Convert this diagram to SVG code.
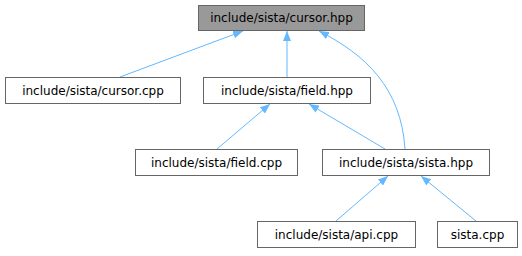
<svg xmlns="http://www.w3.org/2000/svg" width="522" height="256" viewBox="0 0 522 256">
  <style>
    .node rect { fill: #ffffff; stroke: #666666; stroke-width: 1; }
    .node.current rect { fill: #999999; }
    .node text { font-family: "DejaVu Sans", sans-serif; font-size: 12px; fill: #000000; text-anchor: middle; }
    .edge { fill: none; stroke: #63b8ff; stroke-width: 1; marker-start: url(#head); }
  </style>
  <defs>
    <marker id="head" viewBox="0 0 10 8" refX="10" refY="4" markerWidth="10" markerHeight="8" markerUnits="userSpaceOnUse" orient="auto-start-reverse">
      <path d="M0,0 L10,4 L0,8 z" fill="#63b8ff"/>
    </marker>
  </defs>

  <!-- dependency edges: arrowheads point at the including header -->
  <g id="edges">
    <path class="edge" d="M243,31 L120,77"/>
    <path class="edge" d="M287,31 L287,77"/>
    <path class="edge" d="M319,31 C366,55 401,88 405,149"/>
    <path class="edge" d="M270,104 L217,149"/>
    <path class="edge" d="M309,104 L385,149"/>
    <path class="edge" d="M388,176 L336,221"/>
    <path class="edge" d="M421,176 L476,221"/>
  </g>

  <g id="node-cursor-hpp" class="node current">
    <rect x="198.5" y="5.5" width="166" height="25"/>
    <text x="281.5" y="22">include/sista/cursor.hpp</text>
  </g>
  <g id="node-cursor-cpp" class="node">
    <rect x="5.5" y="77.5" width="175" height="26"/>
    <text x="93" y="94.5">include/sista/cursor.cpp</text>
  </g>
  <g id="node-field-hpp" class="node">
    <rect x="203.5" y="77.5" width="167" height="26"/>
    <text x="287" y="94.5">include/sista/field.hpp</text>
  </g>
  <g id="node-field-cpp" class="node">
    <rect x="135.5" y="149.5" width="162" height="26"/>
    <text x="216.5" y="166.5">include/sista/field.cpp</text>
  </g>
  <g id="node-sista-hpp" class="node">
    <rect x="322.5" y="149.5" width="167" height="26"/>
    <text x="406" y="166.5">include/sista/sista.hpp</text>
  </g>
  <g id="node-api-cpp" class="node">
    <rect x="257.5" y="221.5" width="158" height="26"/>
    <text x="336.5" y="238.5">include/sista/api.cpp</text>
  </g>
  <g id="node-sista-cpp" class="node">
    <rect x="437.5" y="221.5" width="80" height="26"/>
    <text x="477.5" y="238.5">sista.cpp</text>
  </g>
</svg>
